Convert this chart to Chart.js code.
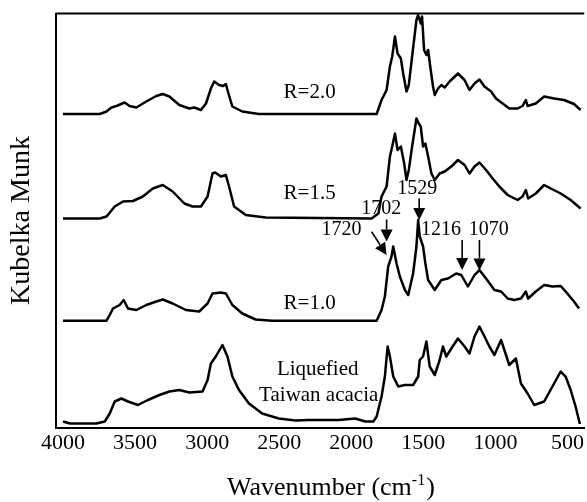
<!DOCTYPE html>
<html>
<head>
<meta charset="utf-8">
<script src="https://cdn.jsdelivr.net/npm/chart.js@4/dist/chart.umd.min.js"></script>
<style>
  html, body { margin: 0; padding: 0; background: #fff; }
  #wrap { width: 587px; height: 502px; }
</style>
</head>
<body>
<div id="wrap"><canvas id="c" width="587" height="502"></canvas></div>
<script>
// ---- Data (wavenumber in cm^-1, Kubelka-Munk in arbitrary stacked units) ----
const xTickValues = [4000, 3500, 3000, 2500, 2000, 1500, 1000, 500];

const r20Wn = [4000, 3745, 3698, 3664, 3629, 3572, 3538, 3491, 3422, 3353, 3308, 3262, 3193, 3124, 3089, 3043, 3008, 2974, 2951, 2917, 2889, 2870, 2852, 2825, 2756, 2641, 1824, 1790, 1755, 1732, 1716, 1697, 1679, 1656, 1640, 1617, 1601, 1578, 1548, 1536, 1518, 1509, 1495, 1479, 1467, 1449, 1433, 1421, 1398, 1375, 1352, 1318, 1260, 1214, 1180, 1145, 1111, 1076, 1030, 996, 950, 904, 846, 812, 789, 777, 720, 662, 593, 524, 455, 409];
const r20Km = [313.5, 313.5, 316, 320, 321.5, 325, 321.5, 320, 326, 331.5, 333.5, 331, 322.5, 319, 320, 317.5, 324, 339, 346, 342.5, 341.5, 343.5, 334, 321, 316, 313.5, 313.5, 327.5, 337.5, 361, 371, 391, 374, 369, 354, 336, 342.5, 371, 407.5, 412.5, 404, 411, 377.5, 372.5, 377.5, 357.5, 341, 332.5, 339, 342.5, 340, 346, 354, 347.5, 337.5, 344, 348, 341, 336, 329, 324, 319, 319, 321.5, 327.5, 321.5, 324, 331, 329, 327.5, 323.5, 317.5];

const r15Wn = [4000, 3745, 3698, 3641, 3584, 3515, 3446, 3377, 3308, 3239, 3158, 3101, 3043, 2997, 2963, 2944, 2905, 2870, 2848, 2813, 2732, 2594, 1859, 1812, 1790, 1755, 1732, 1716, 1697, 1679, 1656, 1633, 1617, 1601, 1578, 1548, 1532, 1518, 1502, 1486, 1467, 1444, 1421, 1387, 1352, 1306, 1260, 1214, 1180, 1145, 1111, 1065, 1019, 973, 915, 846, 812, 789, 773, 720, 662, 616, 547, 478, 409];
const r15Km = [209, 209, 211, 221, 226, 226.5, 231, 239, 242.5, 236, 224, 221, 221, 231, 254, 255, 251, 252.5, 241, 221, 212.5, 210, 209, 214, 231, 241, 271, 281, 294, 277.5, 281, 264, 247.5, 257.5, 281, 309, 304, 301, 281, 284, 271, 254, 247.5, 254, 256, 261, 267.5, 262.5, 254, 261, 265, 257.5, 249, 241, 232.5, 227.5, 231, 237.5, 229, 234, 242.5, 239, 234, 227.5, 219];

const r10Wn = [4000, 3698, 3676, 3653, 3607, 3579, 3549, 3491, 3422, 3353, 3308, 3239, 3147, 3055, 2997, 2963, 2905, 2870, 2825, 2756, 2664, 2549, 1824, 1790, 1767, 1744, 1721, 1709, 1686, 1663, 1628, 1605, 1571, 1548, 1536, 1525, 1502, 1486, 1467, 1421, 1375, 1329, 1272, 1237, 1191, 1145, 1111, 1065, 1007, 961, 915, 869, 823, 789, 773, 720, 662, 605, 547, 501, 455, 420];
const r10Km = [106.8, 106.8, 112.5, 119, 122.5, 127.5, 119, 117.5, 122.5, 126, 128, 124, 117.5, 116, 124, 134, 135, 134, 122.5, 114, 108, 106.8, 106.8, 117.5, 131, 161, 171, 181, 164, 151, 137.5, 132.5, 154, 181, 207.5, 191, 181, 164, 147.5, 137.5, 147.5, 149, 154, 152.5, 141, 152.5, 157.5, 149, 137.5, 136, 129, 127.5, 129, 136, 129, 136, 142.5, 141, 141.5, 134, 126, 119];

const liqWn = [4000, 3952, 3768, 3710, 3676, 3641, 3595, 3549, 3480, 3411, 3331, 3262, 3193, 3124, 3032, 2997, 2974, 2940, 2894, 2859, 2825, 2779, 2710, 2618, 2503, 2387, 2295, 2088, 1973, 1904, 1847, 1824, 1790, 1767, 1748, 1732, 1709, 1674, 1628, 1571, 1536, 1525, 1502, 1479, 1456, 1421, 1387, 1364, 1341, 1306, 1260, 1214, 1180, 1145, 1111, 1076, 1042, 1007, 961, 938, 904, 858, 823, 777, 731, 662, 593, 547, 513, 478, 444, 414];
const liqKm = [6, 4, 4, 6, 14, 26, 29, 26, 22.5, 27.5, 32.5, 36, 37.5, 35, 36, 47.5, 64, 71, 82.5, 71, 51, 37.5, 24, 14, 9, 7, 7.5, 7.5, 9, 6, 6, 11, 31, 51, 81, 71, 51, 41, 42.5, 42.5, 51, 67.5, 71, 86, 61, 52.5, 67.5, 81, 71, 79, 89, 81, 74, 91, 101, 91, 81, 72.5, 87.5, 77.5, 62.5, 69, 44, 34, 22.5, 26, 44, 56, 51, 37.5, 21, 3.5];

// Curve labels: text, wavenumber, KM position
const seriesLabels = ["R=2.0", "R=1.5", "R=1.0", "Liquefied", "Taiwan acacia"];
const seriesLabelWn = [2289, 2289, 2289, 2233, 2226];
const seriesLabelKm = [335.5, 234.5, 124.5, 58.5, 32.5];

// Peak annotations
const peakLabels = ["1720", "1702", "1529", "1216", "1070"];
const peakLabelWn = [2068, 1792, 1543, 1378, 1046];
const peakLabelKm = [198, 218.5, 238.5, 197.5, 197.5];
// arrows: from (wn, km) to (wn, km)
const arrowFromWn = [1859, 1755, 1529, 1231, 1111];
const arrowFromKm = [195.8, 208, 229, 187.5, 187.5];
const arrowToWn = [1755, 1755, 1529, 1231, 1111];
const arrowToKm = [172.5, 186, 207.5, 157.5, 157];

// Axis title parts
const xTitleMain = "Wavenumber (cm";
const xTitleSup = "-1";
const xTitleEnd = ")";

const SERIF = '"Liberation Serif", "Times New Roman", serif';

function pts(wn, km) { return wn.map((w, i) => ({ x: w, y: km[i] })); }

const annotationPlugin = {
  id: 'annot',
  afterDatasetsDraw(chart) {
    const { ctx, chartArea, scales: { x, y } } = chart;
    ctx.save();
    // top frame line
    ctx.strokeStyle = '#000';
    ctx.lineWidth = 2;
    ctx.beginPath();
    ctx.moveTo(chartArea.left, chartArea.top);
    ctx.lineTo(chartArea.right, chartArea.top);
    ctx.stroke();

    ctx.fillStyle = '#000';
    ctx.textAlign = 'center';
    ctx.textBaseline = 'middle';
    ctx.font = '21px ' + SERIF;
    seriesLabels.forEach((t, i) => {
      ctx.fillText(t, x.getPixelForValue(seriesLabelWn[i]), y.getPixelForValue(seriesLabelKm[i]));
    });
    ctx.font = '20px ' + SERIF;
    peakLabels.forEach((t, i) => {
      ctx.fillText(t, x.getPixelForValue(peakLabelWn[i]), y.getPixelForValue(peakLabelKm[i]));
    });
    // arrows
    ctx.lineWidth = 1.6;
    for (let i = 0; i < arrowFromWn.length; i++) {
      const x1 = x.getPixelForValue(arrowFromWn[i]), y1 = y.getPixelForValue(arrowFromKm[i]);
      const x2 = x.getPixelForValue(arrowToWn[i]), y2 = y.getPixelForValue(arrowToKm[i]);
      const ang = Math.atan2(y2 - y1, x2 - x1);
      const hl = 12, hw = 6;
      const bx = x2 - hl * Math.cos(ang), by = y2 - hl * Math.sin(ang);
      ctx.beginPath();
      ctx.moveTo(x1, y1);
      ctx.lineTo(bx, by);
      ctx.stroke();
      ctx.beginPath();
      ctx.moveTo(x2, y2);
      ctx.lineTo(bx + hw * Math.sin(ang), by - hw * Math.cos(ang));
      ctx.lineTo(bx - hw * Math.sin(ang), by + hw * Math.cos(ang));
      ctx.closePath();
      ctx.fill();
    }

    // x axis title with superscript
    const mainFont = '26px ' + SERIF, supFont = '16px ' + SERIF;
    ctx.font = mainFont; const w1 = ctx.measureText(xTitleMain).width; const w3 = ctx.measureText(xTitleEnd).width;
    ctx.font = supFont; const w2 = ctx.measureText(xTitleSup).width;
    const total = w1 + w2 + w3 + 1;
    const cx = (chartArea.left + chartArea.right) / 2 + 11;
    const base = chartArea.bottom + 67.5;
    let sx = cx - total / 2;
    ctx.textAlign = 'left';
    ctx.textBaseline = 'alphabetic';
    ctx.font = mainFont; ctx.fillText(xTitleMain, sx, base); sx += w1;
    ctx.font = supFont; ctx.fillText(xTitleSup, sx, base - 10); sx += w2 + 1;
    ctx.font = mainFont; ctx.fillText(xTitleEnd, sx, base);
    ctx.restore();
  }
};

const lineStyle = { borderColor: '#000', borderWidth: 2.5, pointRadius: 0, tension: 0, fill: false, borderJoinStyle: 'round' };

new Chart(document.getElementById('c'), {
  type: 'line',
  data: {
    datasets: [
      Object.assign({ label: 'R=2.0', data: pts(r20Wn, r20Km) }, lineStyle),
      Object.assign({ label: 'R=1.5', data: pts(r15Wn, r15Km) }, lineStyle),
      Object.assign({ label: 'R=1.0', data: pts(r10Wn, r10Km) }, lineStyle),
      Object.assign({ label: 'Liquefied Taiwan acacia', data: pts(liqWn, liqKm) }, lineStyle)
    ]
  },
  options: {
    responsive: false,
    animation: false,
    devicePixelRatio: 1,
    layout: { padding: { top: 13.5, right: 0, left: 0, bottom: 0 } },
    plugins: { legend: { display: false }, tooltip: { enabled: false } },
    scales: {
      x: {
        type: 'linear',
        reverse: true,
        min: 384,
        max: 4052,
        afterBuildTicks(scale) { scale.ticks = xTickValues.map(v => ({ value: v })); },
        afterFit(scale) { scale.height = 74.5; },
        grid: { display: false, drawTicks: false },
        border: { display: true, color: '#000', width: 2 },
        ticks: {
          color: '#000', font: { family: SERIF, size: 22 }, padding: 3,
          maxRotation: 0, autoSkip: false,
          callback: (v) => String(v)
        },
        title: { display: false }
      },
      y: {
        type: 'linear',
        min: 0,
        max: 414,
        afterFit(scale) { scale.width = 55.5; },
        grid: { display: false, drawTicks: false },
        border: { display: true, color: '#000', width: 2 },
        ticks: { display: false },
        title: {
          display: true, text: 'Kubelka Munk', color: '#000',
          font: { family: SERIF, size: 28 }, padding: { top: 5, bottom: 0 }
        }
      }
    }
  },
  plugins: [annotationPlugin]
});
</script>
</body>
</html>
